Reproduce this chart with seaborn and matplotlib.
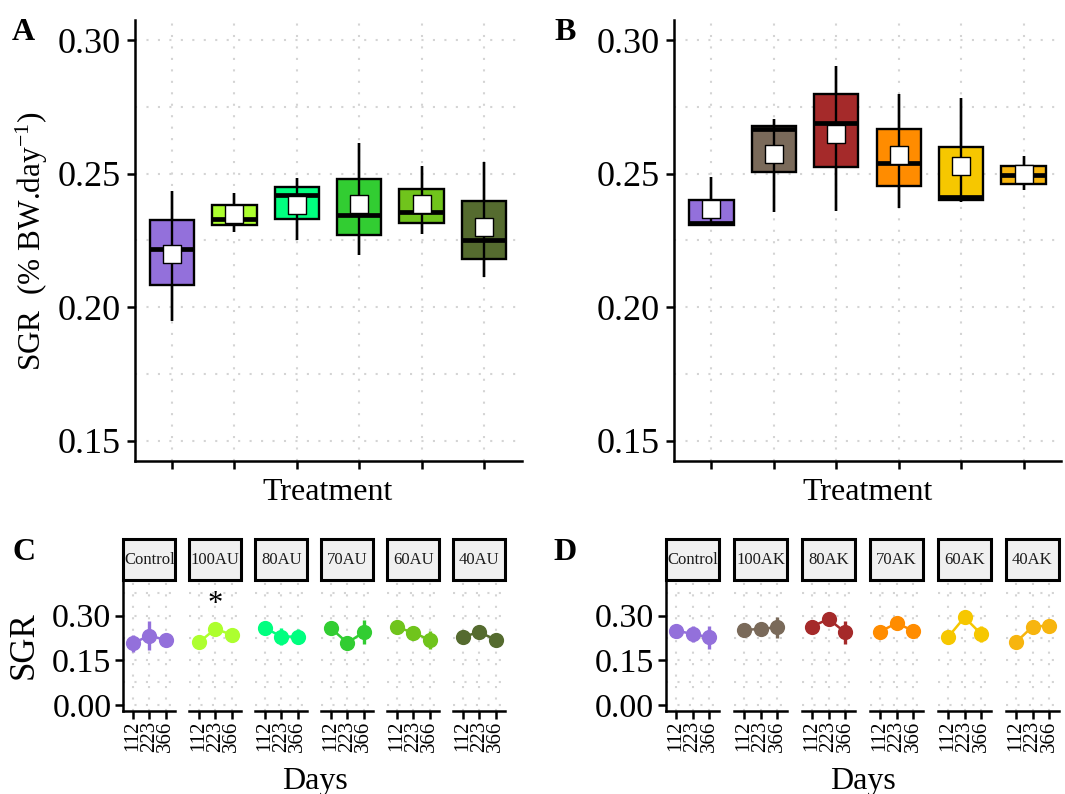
import numpy as np
import pandas as pd
import matplotlib
matplotlib.use("Agg")
import matplotlib.pyplot as plt
from matplotlib.patches import Rectangle
import seaborn as sns

# ---------------------------------------------------------------- data
treat_au = ["Control", "100AU", "80AU", "70AU", "60AU", "40AU"]
treat_ak = ["Control", "100AK", "80AK", "70AK", "60AK", "40AK"]
colors_au = ["#9370DB", "#ADFF2F", "#00FF7F", "#32CD32", "#70C41C", "#556B2F"]
colors_ak = ["#9370DB", "#7A6A5A", "#A52A2A", "#FF8C00", "#F6C700", "#F7B50F"]

# box summaries (whisker low, Q1, median, Q3, whisker high) and means
au_low = [0.1947, 0.2281, 0.2251, 0.2196, 0.2276, 0.2112]
au_q1 = [0.2082, 0.2308, 0.2331, 0.2270, 0.2315, 0.2180]
au_med = [0.2219, 0.2331, 0.2419, 0.2347, 0.2357, 0.2252]
au_q3 = [0.2326, 0.2384, 0.2450, 0.2481, 0.2441, 0.2397]
au_high = [0.2434, 0.2428, 0.2484, 0.2616, 0.2527, 0.2544]
au_mean = [0.2200, 0.2350, 0.2384, 0.2387, 0.2387, 0.2302]

ak_low = [0.2307, 0.2357, 0.2362, 0.2372, 0.2393, 0.2438]
ak_q1 = [0.2307, 0.2506, 0.2524, 0.2455, 0.2403, 0.2463]
ak_med = [0.2316, 0.2667, 0.2688, 0.2540, 0.2412, 0.2496]
ak_q3 = [0.2400, 0.2680, 0.2797, 0.2668, 0.2598, 0.2529]
ak_high = [0.2488, 0.2703, 0.2904, 0.2797, 0.2782, 0.2565]
ak_mean = [0.2369, 0.2573, 0.2650, 0.2571, 0.2530, 0.2499]

box_yticks = [0.15, 0.20, 0.25, 0.30]
box_yticklabels = ["0.15", "0.20", "0.25", "0.30"]

# SGR per sampling day (rows follow treat_au / treat_ak)
days = ["112", "223", "366"]
au_day_mean = [
    [0.207, 0.233, 0.218],
    [0.2105, 0.2553, 0.2362],
    [0.2587, 0.2295, 0.2295],
    [0.2576, 0.2083, 0.244],
    [0.2609, 0.243, 0.2184],
    [0.2295, 0.244, 0.2195],
]
au_day_se = [
    [0.028, 0.049, 0.012],
    [0.010, 0.010, 0.010],
    [0.018, 0.029, 0.026],
    [0.014, 0.020, 0.040],
    [0.014, 0.014, 0.030],
    [0.012, 0.012, 0.012],
]
ak_day_mean = [
    [0.2497, 0.2385, 0.2273],
    [0.2519, 0.2553, 0.261],
    [0.263, 0.2888, 0.244],
    [0.2463, 0.2743, 0.2497],
    [0.2273, 0.2944, 0.2385],
    [0.2105, 0.263, 0.2664],
]
ak_day_se = [
    [0.014, 0.026, 0.039],
    [0.010, 0.010, 0.035],
    [0.021, 0.014, 0.039],
    [0.010, 0.010, 0.010],
    [0.010, 0.014, 0.028],
    [0.010, 0.010, 0.010],
]
day_yticks = [0.00, 0.15, 0.30]
day_yticklabels = ["0.00", "0.15", "0.30"]

# ---------------------------------------------------------------- style
sns.set_theme(style="white")
plt.rcParams["font.family"] = ["Liberation Serif", "DejaVu Serif"]
plt.rcParams["mathtext.fontset"] = "custom"
plt.rcParams["mathtext.rm"] = "Liberation Serif"
plt.rcParams["mathtext.it"] = "Liberation Serif:italic"
plt.rcParams["mathtext.bf"] = "Liberation Serif:bold"
for key in ("text.color", "axes.labelcolor", "xtick.color", "ytick.color",
            "axes.edgecolor"):
    plt.rcParams[key] = "black"

W, H = 1065, 794
fig = plt.figure(figsize=(W / 100, H / 100), dpi=100)
fig.patch.set_facecolor("white")


def rect(l, t, r, b):
    return [l / W, 1 - b / H, (r - l) / W, (b - t) / H]


GRID = dict(color="#D4D4D4", linestyle=(0, (1, 4.5)), linewidth=1.5)
AXIS_LW = 1.8


def style_axes(ax, pad=2.5):
    ax.set_facecolor("white")
    for s in ("top", "right"):
        ax.spines[s].set_visible(False)
    for s in ("left", "bottom"):
        ax.spines[s].set_color("black")
        ax.spines[s].set_linewidth(AXIS_LW)
    ax.set_axisbelow(True)
    ax.tick_params(which="major", direction="out", length=5.5, width=AXIS_LW,
                   color="black", labelcolor="black", pad=pad,
                   bottom=True, left=True)
    ax.tick_params(which="minor", length=0, bottom=False, left=False)


def box_panel(ax, treat, colors, low, q1, med, q3, high, mean):
    df = pd.DataFrame({
        "treatment": np.repeat(treat, 5),
        "sgr": np.column_stack([low, q1, med, q3, high]).ravel(),
    })
    sns.boxplot(data=df, x="treatment", y="sgr", hue="treatment", order=treat,
                hue_order=treat, palette=colors, saturation=1, width=0.71,
                whis=(0, 100), showcaps=False, showfliers=False,
                linewidth=1.7, linecolor="black", legend=False, ax=ax,
                medianprops=dict(linewidth=3.4, color="black", zorder=5))
    pos = np.arange(len(treat))
    ax.vlines(pos, low, high, color="black", linewidth=1.7, zorder=4)
    sns.scatterplot(x=pos, y=mean, marker="s", s=170, color="white",
                    edgecolor="black", linewidth=1.0, zorder=6, ax=ax,
                    legend=False)
    ax.set_xlim(-0.6, len(treat) - 0.4)
    ax.set_ylim(0.1425, 0.3075)
    ax.set_xticks(pos)
    ax.set_xticklabels([])
    ax.set_yticks(box_yticks)
    ax.set_yticklabels(box_yticklabels, fontsize=26)
    ax.set_yticks([0.175, 0.225, 0.275], minor=True)
    ax.set_xlabel("")
    ax.set_ylabel("")
    style_axes(ax, pad=4.5)
    ax.grid(True, which="major", axis="both", **GRID)
    ax.grid(True, which="minor", axis="y", **GRID)


axA = fig.add_axes(rect(134.5, 20, 521.5, 461))
box_panel(axA, treat_au, colors_au, au_low, au_q1, au_med, au_q3, au_high, au_mean)
axB = fig.add_axes(rect(674, 20, 1061, 461))
box_panel(axB, treat_ak, colors_ak, ak_low, ak_q1, ak_med, ak_q3, ak_high, ak_mean)

fig.text(32 / W, 1 - 241 / H, "SGR  (% BW.day$^{-1}$)", rotation=90,
         ha="center", va="center", fontsize=22.5)
fig.text(328 / W, 1 - 500 / H, "Treatment", ha="center", va="baseline", fontsize=23)
fig.text(867.5 / W, 1 - 500 / H, "Treatment", ha="center", va="baseline", fontsize=23)

# ---------------------------------------------------------------- per-day facets
STRIP_PX = 41
TOP, BOTTOM = 580, 710.7


def facet_row(treat, colors, means, ses, left0, pitch, width, star=None):
    axes = []
    for k, (name, col) in enumerate(zip(treat, colors)):
        l = left0 + pitch * k
        ax = fig.add_axes(rect(l, TOP, l + width, BOTTOM))
        m = np.array(means[k])
        e = np.array(ses[k])
        sns.pointplot(x=days, y=m, order=days, color=col, errorbar=None,
                      markersize=9.6, linewidth=1.8, ax=ax)
        ax.vlines(np.arange(len(days)), m - e, m + e, color=col,
                  linewidth=2.4, zorder=3)
        ax.set_xlim(-0.6, len(days) - 0.4)
        ax.set_ylim(-0.02, 0.42)
        ax.set_xticks(np.arange(len(days)))
        ax.set_xticklabels(days, rotation=90, fontsize=15)
        ax.set_yticks(day_yticks)
        ax.set_yticks([0.075, 0.225, 0.375], minor=True)
        ax.set_xlabel("")
        ax.set_ylabel("")
        style_axes(ax, pad=3)
        ax.tick_params(axis="x", which="major", pad=1.5)
        if k == 0:
            ax.set_yticklabels(day_yticklabels, fontsize=24.5)
        else:
            ax.spines["left"].set_visible(False)
            ax.tick_params(axis="y", which="both", left=False, labelleft=False)
        ax.grid(True, which="major", axis="both", **GRID)
        ax.grid(True, which="minor", axis="y", **GRID)
        sh = STRIP_PX / (BOTTOM - TOP)
        ax.add_patch(Rectangle((0, 1), 1, sh, transform=ax.transAxes,
                               clip_on=False, facecolor="#F0F0F0",
                               edgecolor="black", linewidth=2.2, zorder=10))
        ax.text(0.5, 1 + sh / 2, name, transform=ax.transAxes, ha="center",
                va="center", fontsize=12, color="#1A1A1A", zorder=11)
        if star is not None and star[0] == k:
            ax.text(star[1], star[2], "*", ha="center", va="center",
                    fontsize=22, color="black")
        axes.append(ax)
    return axes


facet_row(treat_au, colors_au, au_day_mean, au_day_se, 123.3, 66.0, 52.0,
          star=(1, 1, 0.338))
facet_row(treat_ak, colors_ak, ak_day_mean, ak_day_se, 666.0, 68.0, 53.0)

fig.text(24 / W, 1 - 645 / H, "SGR", rotation=90, ha="center", va="center",
         fontsize=25)
fig.text(315 / W, 1 - 789 / H, "Days", ha="center", va="baseline", fontsize=23)
fig.text(863 / W, 1 - 789 / H, "Days", ha="center", va="baseline", fontsize=23)

# panel tags
for tag, x, y in (("A", 12, 40), ("B", 554, 40), ("C", 12, 560), ("D", 553, 560)):
    fig.text(x / W, 1 - y / H, tag, ha="left", va="baseline", fontsize=23,
             fontweight="bold")

fig.savefig("out.png", dpi=100, facecolor="white")
